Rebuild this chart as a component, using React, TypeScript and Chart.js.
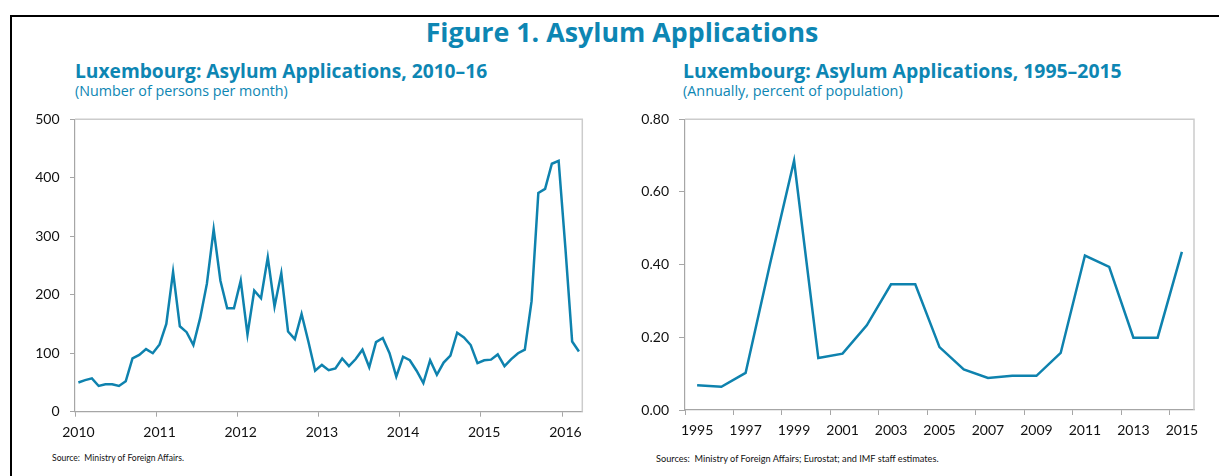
import React, { useEffect, useRef } from "react";
import { Chart, registerables } from "chart.js";

Chart.register(...registerables);

// ---------- Data ----------
const FIGURE_TITLE = "Figure 1. Asylum Applications";

const LEFT_TITLE = "Luxembourg: Asylum Applications, 2010–16";
const LEFT_SUBTITLE = "(Number of persons per month)";
const LEFT_SOURCE = "Source:  Ministry of Foreign Affairs.";
const MONTHLY_START_YEAR = 2010;
// Jan 2010 – Mar 2016, persons per month
const MONTHLY_APPLICATIONS = [
  50, 54, 57, 44, 47, 47, 44, 52, 91, 97, 107, 100,
  115, 150, 239, 146, 136, 114, 160, 219, 312, 224, 177, 177,
  224, 132, 207, 194, 264, 180, 237, 137, 124, 167, 120, 70,
  80, 71, 74, 91, 78, 90, 106, 76, 119, 126, 100, 60,
  94, 88, 70, 49, 88, 63, 84, 96, 135, 127, 114, 83,
  88, 89, 98, 78, 90, 100, 106, 189, 374, 381, 424, 429,
  280, 120, 103,
];
const LEFT_Y_TICKS = [0, 100, 200, 300, 400, 500];
const LEFT_X_YEARS = [2010, 2011, 2012, 2013, 2014, 2015, 2016];

const RIGHT_TITLE = "Luxembourg: Asylum Applications, 1995–2015";
const RIGHT_SUBTITLE = "(Annually, percent of population)";
const RIGHT_SOURCE = "Sources:  Ministry of Foreign Affairs; Eurostat; and IMF staff estimates.";
const ANNUAL_YEARS = [
  1995, 1996, 1997, 1998, 1999, 2000, 2001, 2002, 2003, 2004, 2005,
  2006, 2007, 2008, 2009, 2010, 2011, 2012, 2013, 2014, 2015,
];
const ANNUAL_PERCENT = [
  0.068, 0.064, 0.102, 0.4, 0.686, 0.143, 0.155, 0.233, 0.346, 0.346, 0.173,
  0.112, 0.088, 0.094, 0.094, 0.157, 0.425, 0.394, 0.199, 0.199, 0.435,
];
const RIGHT_Y_TICKS = [0, 0.2, 0.4, 0.6, 0.8];
const RIGHT_X_LABEL_YEARS = [1995, 1997, 1999, 2001, 2003, 2005, 2007, 2009, 2011, 2013, 2015];

// ---------- Styles ----------
const TEAL = "#0d86b3";
const LINE = "#0e82ae";
const AXIS = "#a6a6a6";
const FRAME = "#cccccc";
const LABEL_FONT = "Lato, 'Open Sans', sans-serif";
const TITLE_FONT = "'Open Sans', 'Noto Sans', sans-serif";

const plotFrame = {
  id: "plotFrame",
  beforeDatasetsDraw(chart: any) {
    const { ctx, chartArea } = chart;
    ctx.save();
    ctx.strokeStyle = FRAME;
    ctx.lineWidth = 1.5;
    ctx.beginPath();
    ctx.moveTo(chartArea.left, chartArea.top);
    ctx.lineTo(chartArea.right, chartArea.top);
    ctx.lineTo(chartArea.right, chartArea.bottom);
    ctx.stroke();
    ctx.restore();
  },
};

function useChart(ref: React.RefObject<HTMLCanvasElement>, build: () => any) {
  useEffect(() => {
    if (!ref.current) return;
    const chart = new Chart(ref.current, build());
    return () => chart.destroy();
  }, []);
}

function LeftChart() {
  const ref = useRef<HTMLCanvasElement>(null);
  useChart(ref, () => ({
    type: "line",
    data: {
      datasets: [
        {
          data: MONTHLY_APPLICATIONS.map((v, i) => ({ x: i + 0.5, y: v })),
          borderColor: LINE,
          borderWidth: 2.5,
          pointRadius: 0,
          tension: 0,
          fill: false,
        },
      ],
    },
    options: {
      responsive: false,
      animation: false,
      devicePixelRatio: 1,
      layout: { padding: { left: 25, right: 27.7, top: 19.3, bottom: 3.3 } },
      plugins: { legend: { display: false }, tooltip: { enabled: false } },
      scales: {
        x: {
          type: "linear",
          min: 0,
          max: MONTHLY_APPLICATIONS.length,
          afterFit: (s: any) => { s.height = 30; },
          afterBuildTicks: (s: any) => {
            s.ticks = LEFT_X_YEARS.map((y) => ({ value: (y - MONTHLY_START_YEAR) * 12 }));
          },
          grid: { drawOnChartArea: false, drawTicks: true, tickLength: 5, color: AXIS, lineWidth: 1 },
          border: { color: AXIS, width: 1.2 },
          ticks: {
            autoSkip: false,
            maxRotation: 0,
            labelOffset: 3.4,
            padding: 7,
            color: "#111",
            font: { family: LABEL_FONT, size: 14 },
            callback: (v: number) => String(MONTHLY_START_YEAR + v / 12),
          },
        },
        y: {
          min: 0,
          max: 500,
          afterFit: (s: any) => { s.width = 50; },
          afterBuildTicks: (s: any) => {
            s.ticks = LEFT_Y_TICKS.map((v) => ({ value: v }));
          },
          grid: { drawOnChartArea: false, drawTicks: true, tickLength: 5, color: AXIS, lineWidth: 1 },
          border: { color: AXIS, width: 1.2 },
          ticks: {
            padding: 10.5,
            color: "#111",
            font: { family: LABEL_FONT, size: 14 },
            callback: (v: number) => String(v),
          },
        },
      },
    },
    plugins: [plotFrame],
  }));
  return <canvas ref={ref} width={610} height={345} style={{ position: "absolute", left: 0, top: 100 }} />;
}

function RightChart() {
  const ref = useRef<HTMLCanvasElement>(null);
  const first = ANNUAL_YEARS[0];
  const last = ANNUAL_YEARS[ANNUAL_YEARS.length - 1];
  useChart(ref, () => ({
    type: "line",
    data: {
      datasets: [
        {
          data: ANNUAL_PERCENT.map((v, i) => ({ x: ANNUAL_YEARS[i], y: v })),
          borderColor: LINE,
          borderWidth: 2.5,
          pointRadius: 0,
          tension: 0,
          fill: false,
        },
      ],
    },
    options: {
      responsive: false,
      animation: false,
      devicePixelRatio: 1,
      layout: { padding: { left: 25, right: 25, top: 19.3, bottom: 5 } },
      plugins: { legend: { display: false }, tooltip: { enabled: false } },
      scales: {
        x: {
          type: "linear",
          min: first - 0.5,
          max: last + 0.5,
          afterFit: (s: any) => { s.height = 30; },
          afterBuildTicks: (s: any) => {
            s.ticks = RIGHT_X_LABEL_YEARS.map((y) => ({ value: y - 0.5 }));
          },
          grid: { drawOnChartArea: false, drawTicks: true, tickLength: 5, color: AXIS, lineWidth: 1 },
          border: { color: AXIS, width: 1.2 },
          ticks: {
            autoSkip: false,
            maxRotation: 0,
            labelOffset: 12.12,
            padding: 7,
            color: "#111",
            font: { family: LABEL_FONT, size: 14 },
            callback: (v: number) => String(v + 0.5),
          },
        },
        y: {
          min: 0,
          max: 0.8,
          afterFit: (s: any) => { s.width = 50; },
          afterBuildTicks: (s: any) => {
            s.ticks = RIGHT_Y_TICKS.map((v) => ({ value: v }));
          },
          grid: { drawOnChartArea: false, drawTicks: true, tickLength: 6, color: AXIS, lineWidth: 1 },
          border: { color: AXIS, width: 1.2 },
          ticks: {
            padding: 10,
            color: "#111",
            font: { family: LABEL_FONT, size: 14 },
            callback: (v: number) => v.toFixed(2),
          },
        },
      },
    },
    plugins: [plotFrame],
  }));
  return <canvas ref={ref} width={609} height={345} style={{ position: "absolute", left: 610, top: 100 }} />;
}

const abs = (s: React.CSSProperties): React.CSSProperties => ({ position: "absolute", whiteSpace: "pre", margin: 0, ...s });

export default function App() {
  return (
    <div style={{ position: "fixed", left: 0, top: 0, width: 1219, height: 476, background: "#fff", overflow: "hidden" }}>
      <div style={abs({ left: 10, top: 15, width: 1209, height: 2, background: "#000" })} />
      <div style={abs({ left: 10, top: 15, width: 2, height: 461, background: "#000" })} />
      <div style={abs({ left: 322, top: 19, width: 600, textAlign: "center", fontFamily: TITLE_FONT, fontWeight: 700, fontSize: 26.8, lineHeight: "26px", color: TEAL })}>
        {FIGURE_TITLE}
      </div>
      <div style={abs({ left: 75, top: 61, fontFamily: TITLE_FONT, fontWeight: 700, fontSize: 19.2, lineHeight: "19px", color: TEAL })}>
        {LEFT_TITLE}
      </div>
      <div style={abs({ left: 75, top: 84, fontFamily: TITLE_FONT, fontSize: 14.3, lineHeight: "14px", color: TEAL })}>
        {LEFT_SUBTITLE}
      </div>
      <div style={abs({ left: 683, top: 61, fontFamily: TITLE_FONT, fontWeight: 700, fontSize: 19.4, lineHeight: "19px", color: TEAL })}>
        {RIGHT_TITLE}
      </div>
      <div style={abs({ left: 683, top: 84, fontFamily: TITLE_FONT, fontSize: 14.4, lineHeight: "14px", color: TEAL })}>
        {RIGHT_SUBTITLE}
      </div>
      <LeftChart />
      <RightChart />
      <div style={abs({ left: 52, top: 453.5, fontFamily: LABEL_FONT, fontSize: 8.6, lineHeight: "9px", color: "#111" })}>
        {LEFT_SOURCE}
      </div>
      <div style={abs({ left: 656, top: 453.5, fontFamily: LABEL_FONT, fontSize: 9.2, lineHeight: "9px", color: "#111" })}>
        {RIGHT_SOURCE}
      </div>
    </div>
  );
}
